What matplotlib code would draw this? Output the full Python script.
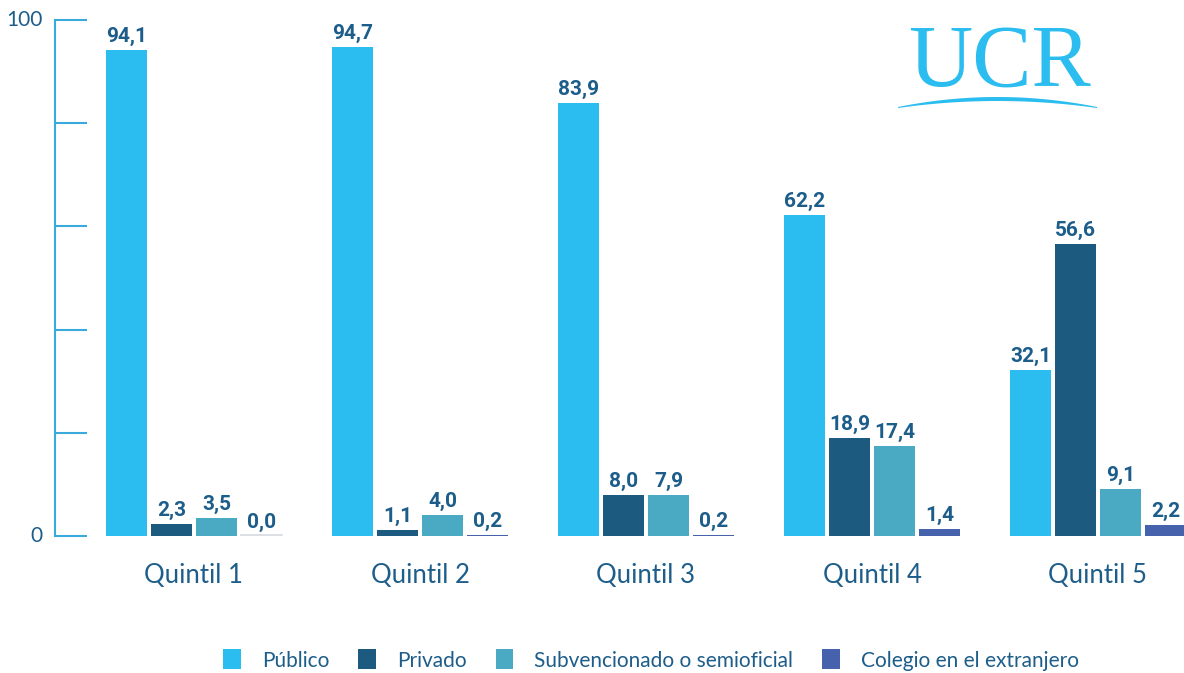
import numpy as np
import matplotlib.pyplot as plt
from matplotlib.patches import Polygon

quintiles = ["Quintil 1", "Quintil 2", "Quintil 3", "Quintil 4", "Quintil 5"]
series_names = ["Público", "Privado", "Subvencionado o semioficial", "Colegio en el extranjero"]
publico = [94.1, 94.7, 83.9, 62.2, 32.1]
privado = [2.3, 1.1, 8.0, 18.9, 56.6]
subvencionado = [3.5, 4.0, 7.9, 17.4, 9.1]
extranjero = [0.0, 0.2, 0.2, 1.4, 2.2]
colors = ["#2bbdef", "#1c5a80", "#4aaac4", "#4662ac"]

text_dark = "#1d5d8a"
axis_blue = "#3aa9dc"

plt.rcParams['font.family'] = ['Lato', 'DejaVu Sans']

fig = plt.figure(figsize=(11.84, 6.73), dpi=100)
W, H = 1184, 673
x0_px = 194.0   # center of first group
step_px = 226.0  # distance between groups
left_px, top_px, bottom_px = 55, 20, 536
ax = fig.add_axes([left_px / W, (H - bottom_px) / H, 1 - left_px / W, (bottom_px - top_px) / H])
ax.set_xlim((left_px - x0_px) / step_px, (W - x0_px) / step_px)
ax.set_ylim(0, 100)

x = np.arange(len(quintiles))
bar_w = 41 / step_px
bar_step = 45 / step_px
all_series = [publico, privado, subvencionado, extranjero]
for i, (vals, name, col) in enumerate(zip(all_series, series_names, colors)):
    pos = x + (i - 1.5) * bar_step
    ax.bar(pos, vals, width=bar_w, color=col, label=name, zorder=2)
    for p, v in zip(pos, vals):
        if v == 0:
            ax.plot([p - bar_w / 2, p + bar_w / 2], [0.1, 0.1], color="#d5d9de", lw=1.2, zorder=2)
        ax.text(p, v + 0.8, f"{v:.1f}".replace(".", ","), ha="center", va="bottom",
                fontsize=15, fontweight="bold", color=text_dark, family=["Roboto", "DejaVu Sans"])

for xi, q in zip(x, quintiles):
    ax.text(xi, -7.6, q, ha="center", va="center", fontsize=18.5, color=text_dark)

# axis styling
for s in ["top", "right", "bottom"]:
    ax.spines[s].set_visible(False)
ax.spines["left"].set_color(axis_blue)
ax.spines["left"].set_linewidth(1.5)
ax.set_xticks([])
ax.set_yticks([0, 20, 40, 60, 80, 100])
ax.set_yticklabels(["0", "", "", "", "", "100"])
ax.tick_params(axis="y", direction="in", length=23, width=1.5, color=axis_blue,
               labelcolor=text_dark, labelsize=15, pad=9)
for lbl in ax.get_yticklabels():
    lbl.set_va("center")

# legend
leg = fig.legend(loc="center", bbox_to_anchor=(651 / W, 1 - 660 / H), ncol=4, frameon=False,
                 fontsize=15, handlelength=0.85, handleheight=1.1, handletextpad=1.0,
                 columnspacing=1.4)
for t in leg.get_texts():
    t.set_color(text_dark)

# UCR logo
logo_col = "#2bbdef"
fig.text(1000 / W, 1 - 64 / H, "UCR", ha="center", va="center", fontsize=64,
         color=logo_col, family=["Liberation Serif", "DejaVu Serif"])
xs = np.linspace(898, 1097, 60)
t = (xs - 997.5) / 99.5
upper = 97 + 10 * t ** 2
lower = 101 + 7 * t ** 2
pts = np.concatenate([np.column_stack([xs, upper]), np.column_stack([xs[::-1], lower[::-1]])])
pts_fig = np.column_stack([pts[:, 0] / W, 1 - pts[:, 1] / H])
fig.patches.append(Polygon(pts_fig, closed=True, transform=fig.transFigure,
                           facecolor=logo_col, edgecolor="none"))

fig.savefig("out.png", dpi=100)
